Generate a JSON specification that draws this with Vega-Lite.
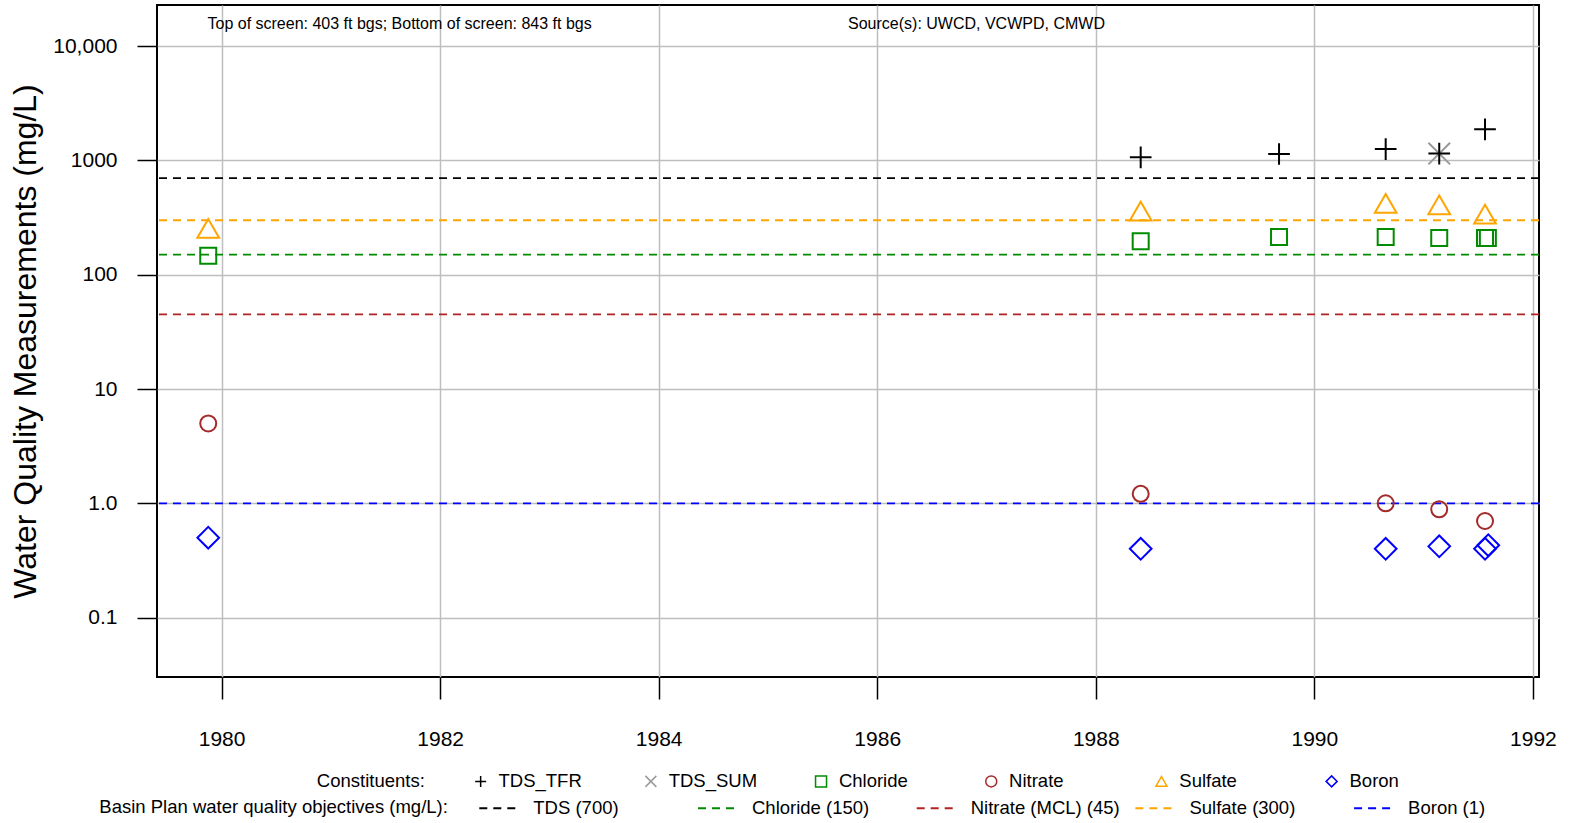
{
  "$schema": "https://vega.github.io/schema/vega-lite/v6.json",
  "autosize": {"type": "none"},
  "padding": {"left": 157, "top": 5, "right": 33, "bottom": 146},
  "width": 1382,
  "height": 672,
  "background": "white",
  "datasets": {
    "points": [
      {"date": 1979.878, "constituent": "Sulfate", "value": 255},
      {"date": 1979.878, "constituent": "Chloride", "value": 147},
      {"date": 1979.878, "constituent": "Nitrate", "value": 5.0},
      {"date": 1979.878, "constituent": "Boron", "value": 0.5},
      {"date": 1988.411, "constituent": "TDS_TFR", "value": 1066},
      {"date": 1988.411, "constituent": "Sulfate", "value": 361},
      {"date": 1988.411, "constituent": "Chloride", "value": 196},
      {"date": 1988.411, "constituent": "Nitrate", "value": 1.21},
      {"date": 1988.411, "constituent": "Boron", "value": 0.4},
      {"date": 1989.677, "constituent": "TDS_TFR", "value": 1140},
      {"date": 1989.677, "constituent": "Chloride", "value": 214},
      {"date": 1990.653, "constituent": "TDS_TFR", "value": 1259},
      {"date": 1990.653, "constituent": "Sulfate", "value": 422},
      {"date": 1990.653, "constituent": "Chloride", "value": 214},
      {"date": 1990.653, "constituent": "Nitrate", "value": 1.0},
      {"date": 1990.653, "constituent": "Boron", "value": 0.4},
      {"date": 1991.143, "constituent": "TDS_SUM", "value": 1150},
      {"date": 1991.143, "constituent": "TDS_TFR", "value": 1150},
      {"date": 1991.143, "constituent": "Sulfate", "value": 409},
      {"date": 1991.143, "constituent": "Chloride", "value": 210},
      {"date": 1991.143, "constituent": "Nitrate", "value": 0.886},
      {"date": 1991.143, "constituent": "Boron", "value": 0.42},
      {"date": 1991.562, "constituent": "TDS_TFR", "value": 1874},
      {"date": 1991.562, "constituent": "Sulfate", "value": 340},
      {"date": 1991.562, "constituent": "Chloride", "value": 210},
      {"date": 1991.562, "constituent": "Nitrate", "value": 0.7},
      {"date": 1991.562, "constituent": "Boron", "value": 0.4},
      {"date": 1991.588, "constituent": "Chloride", "value": 210},
      {"date": 1991.592, "constituent": "Boron", "value": 0.43}
    ],
    "objectives": [
      {"objective": "TDS (700)", "value": 700},
      {"objective": "Chloride (150)", "value": 150},
      {"objective": "Nitrate (MCL) (45)", "value": 45},
      {"objective": "Sulfate (300)", "value": 300},
      {"objective": "Boron (1)", "value": 1}
    ],
    "notes": [
      {"date": 1979.871, "value": 15630, "label": "Top of screen: 403 ft bgs; Bottom of screen: 843 ft bgs"},
      {"date": 1985.733, "value": 15630, "label": "Source(s): UWCD, VCWPD, CMWD"}
    ]
  },
  "layer": [
    {
      "data": {"name": "objectives"},
      "mark": {"type": "rule", "strokeDash": [8, 6], "strokeWidth": 1.8},
      "encoding": {
        "y": {
          "field": "value", "type": "quantitative",
          "scale": {"type": "log", "domain": [0.0302, 22935], "nice": false},
          "axis": {
            "values": [0.1, 1, 10, 100, 1000, 10000],
            "labelExpr": "datum.value == 10000 ? '10,000' : datum.value == 1 ? '1.0' : datum.value == 0.1 ? '0.1' : format(datum.value, 'd')",
            "grid": true, "gridColor": "#bebebe", "gridWidth": 1.5,
            "domain": false, "tickColor": "black", "tickSize": 20, "tickWidth": 1.5,
            "labelFontSize": 21, "labelColor": "black", "labelPadding": 20,
            "labelFlush": false, "labelOverlap": false, "labelBound": false,
            "title": "Water Quality Measurements (mg/L)",
            "titleFontSize": 32, "titleFontWeight": "normal", "titleColor": "black",
            "titleX": -132, "titleY": 336, "titleAngle": -90,
            "titleAlign": "center", "titleBaseline": "middle"
          }
        },
        "stroke": {
          "field": "objective", "type": "nominal",
          "scale": {"domain": ["TDS (700)", "Chloride (150)", "Nitrate (MCL) (45)", "Sulfate (300)", "Boron (1)"],
                    "range": ["black", "#008b00", "#b22222", "#ffa500", "#0000ff"]},
          "legend": {
            "title": "Basin Plan water quality objectives (mg/L):",
            "orient": "none", "legendX": -57.7, "legendY": 783,
            "direction": "horizontal", "columns": 5, "gridAlign": "all",
            "columnPadding": 10.7, "titleOrient": "left", "titlePadding": 30,
            "symbolType": "stroke", "symbolSize": 1444, "symbolDash": [8, 6],
            "symbolStrokeWidth": 2, "labelOffset": 15,
            "labelFontSize": 18.5, "titleFontSize": 18.5, "titleFontWeight": "normal",
            "labelLimit": 400, "titleLimit": 600, "padding": 0,
            "titleBaseline": "middle", "titleAnchor": "middle",
            "encode": {"title": {"update": {"dy": {"value": 4}}}}
          }
        }
      }
    },
    {
      "data": {"name": "notes"},
      "mark": {"type": "text", "align": "left", "baseline": "middle", "fontSize": 16, "font": "Liberation Sans", "color": "black"},
      "encoding": {
        "x": {
          "field": "date", "type": "quantitative",
          "scale": {"domain": [1979.409, 1992.056], "nice": false, "zero": false},
          "axis": {
            "values": [1980, 1982, 1984, 1986, 1988, 1990, 1992], "format": "d",
            "grid": true, "gridColor": "#bebebe", "gridWidth": 1.5,
            "domain": false, "tickColor": "black", "tickSize": 22, "tickWidth": 1.5,
            "labelFontSize": 21, "labelColor": "black", "labelPadding": 29,
            "labelFlush": false, "labelOverlap": false, "labelBound": false,
            "title": null
          }
        },
        "y": {
          "field": "value", "type": "quantitative",
          "scale": {"type": "log", "domain": [0.0302, 22935], "nice": false},
          "axis": {
            "values": [0.1, 1, 10, 100, 1000, 10000],
            "labelExpr": "datum.value == 10000 ? '10,000' : datum.value == 1 ? '1.0' : datum.value == 0.1 ? '0.1' : format(datum.value, 'd')",
            "grid": true, "gridColor": "#bebebe", "gridWidth": 1.5,
            "domain": false, "tickColor": "black", "tickSize": 20, "tickWidth": 1.5,
            "labelFontSize": 21, "labelColor": "black", "labelPadding": 20,
            "labelFlush": false, "labelOverlap": false, "labelBound": false,
            "title": "Water Quality Measurements (mg/L)",
            "titleFontSize": 32, "titleFontWeight": "normal", "titleColor": "black",
            "titleX": -132, "titleY": 336, "titleAngle": -90,
            "titleAlign": "center", "titleBaseline": "middle"
          }
        },
        "text": {"field": "label", "type": "nominal"}
      }
    },
    {
      "data": {"name": "points"},
      "transform": [{"filter": "datum.constituent != 'Chloride' && datum.constituent != 'Nitrate'"}],
      "mark": {"type": "point", "filled": false, "strokeWidth": 2, "opacity": 1, "size": 470},
      "encoding": {
        "x": {
          "field": "date", "type": "quantitative",
          "scale": {"domain": [1979.409, 1992.056], "nice": false, "zero": false},
          "axis": {
            "values": [1980, 1982, 1984, 1986, 1988, 1990, 1992], "format": "d",
            "grid": true, "gridColor": "#bebebe", "gridWidth": 1.5,
            "domain": false, "tickColor": "black", "tickSize": 22, "tickWidth": 1.5,
            "labelFontSize": 21, "labelColor": "black", "labelPadding": 29,
            "labelFlush": false, "labelOverlap": false, "labelBound": false,
            "title": null
          }
        },
        "y": {
          "field": "value", "type": "quantitative",
          "scale": {"type": "log", "domain": [0.0302, 22935], "nice": false},
          "axis": {
            "values": [0.1, 1, 10, 100, 1000, 10000],
            "labelExpr": "datum.value == 10000 ? '10,000' : datum.value == 1 ? '1.0' : datum.value == 0.1 ? '0.1' : format(datum.value, 'd')",
            "grid": true, "gridColor": "#bebebe", "gridWidth": 1.5,
            "domain": false, "tickColor": "black", "tickSize": 20, "tickWidth": 1.5,
            "labelFontSize": 21, "labelColor": "black", "labelPadding": 20,
            "labelFlush": false, "labelOverlap": false, "labelBound": false,
            "title": "Water Quality Measurements (mg/L)",
            "titleFontSize": 32, "titleFontWeight": "normal", "titleColor": "black",
            "titleX": -132, "titleY": 336, "titleAngle": -90,
            "titleAlign": "center", "titleBaseline": "middle"
          }
        },
        "color": {
          "field": "constituent", "type": "nominal",
          "scale": {"domain": ["TDS_TFR", "TDS_SUM", "Chloride", "Nitrate", "Sulfate", "Boron"],
                    "range": ["black", "#9a9a9a", "#008b00", "#a52a2a", "#ffa500", "#0000ff"]},
          "legend": {
            "title": "Constituents:",
            "orient": "none", "legendX": 159.8, "legendY": 767,
            "direction": "horizontal", "columns": 6, "gridAlign": "all",
            "columnPadding": 54.2, "titleOrient": "left", "titlePadding": 46.6,
            "symbolSize": 121, "symbolStrokeWidth": 1.5, "labelOffset": 8.6,
            "labelFontSize": 18.5, "titleFontSize": 18.5, "titleFontWeight": "normal",
            "labelLimit": 400, "titleLimit": 600, "padding": 0,
            "titleBaseline": "middle", "titleAnchor": "middle"
          }
        },
        "shape": {
          "field": "constituent", "type": "nominal",
          "scale": {"domain": ["TDS_TFR", "TDS_SUM", "Chloride", "Nitrate", "Sulfate", "Boron"],
                    "range": ["M-1,0L1,0M0,-1L0,1", "M-1,-1L1,1M-1,1L1,-1", "square", "circle", "triangle-up", "diamond"]},
          "legend": {
            "title": "Constituents:",
            "orient": "none", "legendX": 159.8, "legendY": 767,
            "direction": "horizontal", "columns": 6, "gridAlign": "all",
            "columnPadding": 54.2, "titleOrient": "left", "titlePadding": 46.6,
            "symbolSize": 121, "symbolStrokeWidth": 1.5, "labelOffset": 8.6,
            "labelFontSize": 18.5, "titleFontSize": 18.5, "titleFontWeight": "normal",
            "labelLimit": 400, "titleLimit": 600, "padding": 0,
            "titleBaseline": "middle", "titleAnchor": "middle"
          }
        }
      }
    },
    {
      "data": {"name": "points"},
      "transform": [{"filter": "datum.constituent == 'Chloride' || datum.constituent == 'Nitrate'"}],
      "mark": {"type": "point", "filled": false, "strokeWidth": 2, "opacity": 1, "size": 256},
      "encoding": {
        "x": {
          "field": "date", "type": "quantitative",
          "scale": {"domain": [1979.409, 1992.056], "nice": false, "zero": false},
          "axis": {
            "values": [1980, 1982, 1984, 1986, 1988, 1990, 1992], "format": "d",
            "grid": true, "gridColor": "#bebebe", "gridWidth": 1.5,
            "domain": false, "tickColor": "black", "tickSize": 22, "tickWidth": 1.5,
            "labelFontSize": 21, "labelColor": "black", "labelPadding": 29,
            "labelFlush": false, "labelOverlap": false, "labelBound": false,
            "title": null
          }
        },
        "y": {
          "field": "value", "type": "quantitative",
          "scale": {"type": "log", "domain": [0.0302, 22935], "nice": false},
          "axis": {
            "values": [0.1, 1, 10, 100, 1000, 10000],
            "labelExpr": "datum.value == 10000 ? '10,000' : datum.value == 1 ? '1.0' : datum.value == 0.1 ? '0.1' : format(datum.value, 'd')",
            "grid": true, "gridColor": "#bebebe", "gridWidth": 1.5,
            "domain": false, "tickColor": "black", "tickSize": 20, "tickWidth": 1.5,
            "labelFontSize": 21, "labelColor": "black", "labelPadding": 20,
            "labelFlush": false, "labelOverlap": false, "labelBound": false,
            "title": "Water Quality Measurements (mg/L)",
            "titleFontSize": 32, "titleFontWeight": "normal", "titleColor": "black",
            "titleX": -132, "titleY": 336, "titleAngle": -90,
            "titleAlign": "center", "titleBaseline": "middle"
          }
        },
        "color": {
          "field": "constituent", "type": "nominal",
          "scale": {"domain": ["TDS_TFR", "TDS_SUM", "Chloride", "Nitrate", "Sulfate", "Boron"],
                    "range": ["black", "#9a9a9a", "#008b00", "#a52a2a", "#ffa500", "#0000ff"]},
          "legend": {
            "title": "Constituents:",
            "orient": "none", "legendX": 159.8, "legendY": 767,
            "direction": "horizontal", "columns": 6, "gridAlign": "all",
            "columnPadding": 54.2, "titleOrient": "left", "titlePadding": 46.6,
            "symbolSize": 121, "symbolStrokeWidth": 1.5, "labelOffset": 8.6,
            "labelFontSize": 18.5, "titleFontSize": 18.5, "titleFontWeight": "normal",
            "labelLimit": 400, "titleLimit": 600, "padding": 0,
            "titleBaseline": "middle", "titleAnchor": "middle"
          }
        },
        "shape": {
          "field": "constituent", "type": "nominal",
          "scale": {"domain": ["TDS_TFR", "TDS_SUM", "Chloride", "Nitrate", "Sulfate", "Boron"],
                    "range": ["M-1,0L1,0M0,-1L0,1", "M-1,-1L1,1M-1,1L1,-1", "square", "circle", "triangle-up", "diamond"]},
          "legend": {
            "title": "Constituents:",
            "orient": "none", "legendX": 159.8, "legendY": 767,
            "direction": "horizontal", "columns": 6, "gridAlign": "all",
            "columnPadding": 54.2, "titleOrient": "left", "titlePadding": 46.6,
            "symbolSize": 121, "symbolStrokeWidth": 1.5, "labelOffset": 8.6,
            "labelFontSize": 18.5, "titleFontSize": 18.5, "titleFontWeight": "normal",
            "labelLimit": 400, "titleLimit": 600, "padding": 0,
            "titleBaseline": "middle", "titleAnchor": "middle"
          }
        }
      }
    }
  ],
  "config": {
    "font": "Liberation Sans",
    "view": {"stroke": "black", "strokeWidth": 2},
    "axis": {"labelFont": "Liberation Sans", "titleFont": "Liberation Sans"},
    "legend": {"labelFont": "Liberation Sans", "titleFont": "Liberation Sans", "labelColor": "black", "titleColor": "black"}
  }
}
